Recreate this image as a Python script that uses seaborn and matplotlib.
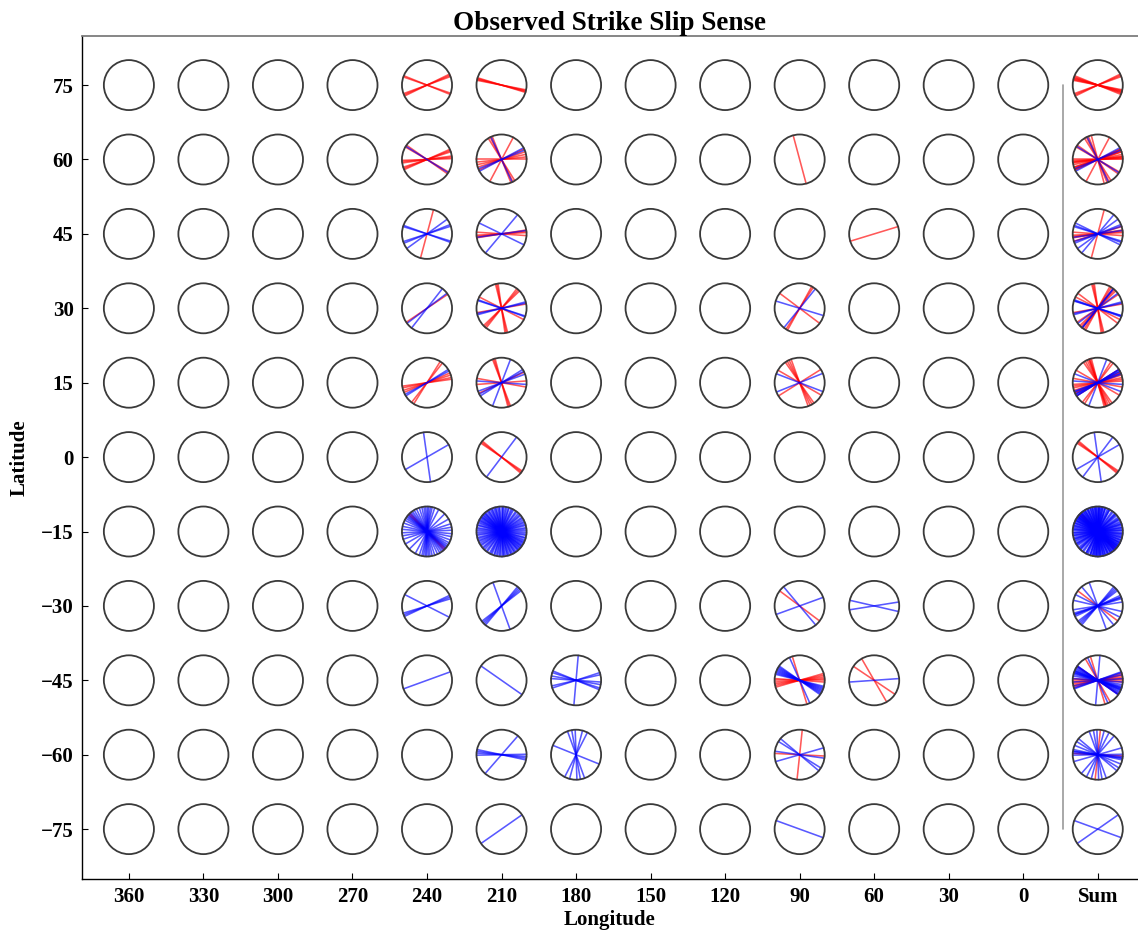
import numpy as np
import pandas as pd
import matplotlib
matplotlib.use("Agg")
import matplotlib.pyplot as plt
from matplotlib.patches import Circle
import seaborn as sns

# ---------------- data ----------------
lats = [75, 60, 45, 30, 15, 0, -15, -30, -45, -60, -75]
lons = [360, 330, 300, 270, 240, 210, 180, 150, 120, 90, 60, 30, 0]
x_labels = ["360", "330", "300", "270", "240", "210", "180", "150", "120", "90", "60", "30", "0", "Sum"]
y_labels = ["75", "60", "45", "30", "15", "0", "\u221215", "\u221230", "\u221245", "\u221260", "\u221275"]

# strike directions (degrees, counter-clockwise from east as drawn) per latitude
red_240 = {75: [158, 161, 20, 23, 26],
           60: [145, 150, 2, 5, 8, 18, 21, 24],
           45: [75],
           30: [34],
           15: [8, 12, 18, 23, 52, 58],
           -15: [133, 137]}
blue_240 = {60: [148],
            45: [160, 163, 18, 22, 36],
            30: [52, 37],
            15: [28, 32],
            0: [98, 30],
            -15: [3, 10, 18, 30, 45, 62, 72, 78, 82, 86, 89, 93, 97, 102, 108, 115,
                  121, 126, 130, 134, 138, 141, 144, 148, 153, 160, 168, 175],
            -30: [153, 17, 21, 25],
            -45: [20]}
red_210 = {75: [163, 165, 167, 169],
           60: [0, 6, 12, 18, 25, 62, 112, 117, 122],
           45: [3, 6, 9, 176],
           30: [98, 101, 104, 44, 48, 52, 153, 10],
           15: [105, 108, 111, 4, 25, 170],
           0: [140, 143, 146]}
blue_210 = {60: [22, 28, 115],
            45: [50, 154, 8],
            30: [12, 15, 162, 160],
            15: [69, 176, 27, 32, 20],
            0: [53],
            -15: [2, 6, 9, 14, 17, 21, 24, 28, 32, 35, 40, 43, 47, 52, 55, 61, 64, 67,
                  72, 74, 78, 81, 85, 87, 90, 94, 96, 99, 103, 105, 108, 112, 114, 117,
                  121, 123, 126, 130, 132, 134, 137, 139, 142, 144, 146, 149, 152, 154,
                  157, 160, 164, 166, 171, 174, 178],
            -30: [110, 38, 42, 46, 50],
            -45: [145],
            -60: [168, 172, 176, 1, 49],
            -75: [35]}
blue_180 = {-45: [85, 158, 162, 170, 13, 18, 176],
            -60: [92, 110, 63, 75, 158, 100]}
red_90 = {60: [105],
          30: [57, 61, 143],
          15: [32, 110, 115, 120, 125, 150],
          -30: [143],
          -45: [107, 0, 4, 8, 12, 16, 176],
          -60: [84, 177]}
blue_90 = {30: [51, 163],
           15: [22, 159],
           -30: [130, 20],
           -45: [114, 145, 148, 151, 154, 157, 160, 163, 166],
           -60: [148, 16, 172, 140],
           -75: [160]}
red_60 = {45: [17], -45: [120, 146]}
blue_60 = {-30: [167, 9], -45: [4]}

cells = [
    (240, "red", red_240), (240, "blue", blue_240),
    (210, "red", red_210), (210, "blue", blue_210),
    (180, "blue", blue_180),
    (90, "red", red_90), (90, "blue", blue_90),
    (60, "red", red_60), (60, "blue", blue_60),
]

# ---------------- build segments ----------------
R = 0.336
sum_col = len(lons)
rows = []
seg = 0
for lon, color, table in cells:
    col = lons.index(lon)
    for lat, angs in table.items():
        for a in angs:
            for cx in (col, sum_col):
                cy = lat / 15.0
                dx, dy = R * np.cos(np.radians(a)), R * np.sin(np.radians(a))
                rows.append(dict(x=cx - dx, y=cy - dy, seg=seg, color=color))
                rows.append(dict(x=cx + dx, y=cy + dy, seg=seg, color=color))
                seg += 1
df = pd.DataFrame(rows)

# ---------------- plot ----------------
sns.set_theme(style="ticks")
plt.rcParams["font.family"] = ["Liberation Serif", "DejaVu Serif"]
plt.rcParams["font.weight"] = "bold"
plt.rcParams["text.color"] = "black"
plt.rcParams["axes.labelcolor"] = "black"
plt.rcParams["xtick.color"] = "black"
plt.rcParams["ytick.color"] = "black"

fig = plt.figure(figsize=(11.38, 9.32), dpi=100)
ax = fig.add_axes([0.072, 0.0569, 0.928, 0.9045])

for i in range(len(x_labels)):
    for lat in lats:
        ax.add_patch(Circle((i, lat / 15.0), R, fill=False, ec="#3a3a3a", lw=1.3, zorder=3))

sns.lineplot(data=df, x="x", y="y", units="seg", estimator=None, hue="color",
             palette={"red": "#ff0000", "blue": "#0000ff"}, sort=False,
             legend=False, lw=1.15, alpha=0.65, ax=ax)

ax.plot([12.53, 12.53], [lats[0] / 15.0, lats[-1] / 15.0], color="#9a9a9a", lw=1.2)

ax.set_xlim(-0.63, 13.54)
ax.set_ylim(-5.67, 5.66)
ax.set_xticks(range(len(x_labels)))
ax.set_xticklabels(x_labels, fontsize=15, fontweight="bold", color="black")
ax.set_yticks([l / 15.0 for l in lats])
ax.set_yticklabels(y_labels, fontsize=15, fontweight="bold", color="black")
ax.tick_params(direction="in", length=4, width=0.8, color="black", pad=6)
ax.set_xlabel("Longitude", fontsize=15, fontweight="bold", labelpad=2, color="black")
ax.set_ylabel("Latitude", fontsize=15, fontweight="bold", labelpad=8, color="black")
ax.set_title("Observed Strike Slip Sense", fontsize=19.5, fontweight="bold", pad=3, color="black")

ax.spines["right"].set_visible(False)
ax.spines["top"].set_color("#777777")
for s in ("left", "bottom"):
    ax.spines[s].set_color("black")
    ax.spines[s].set_linewidth(1.0)

fig.savefig("out.png", dpi=100)
